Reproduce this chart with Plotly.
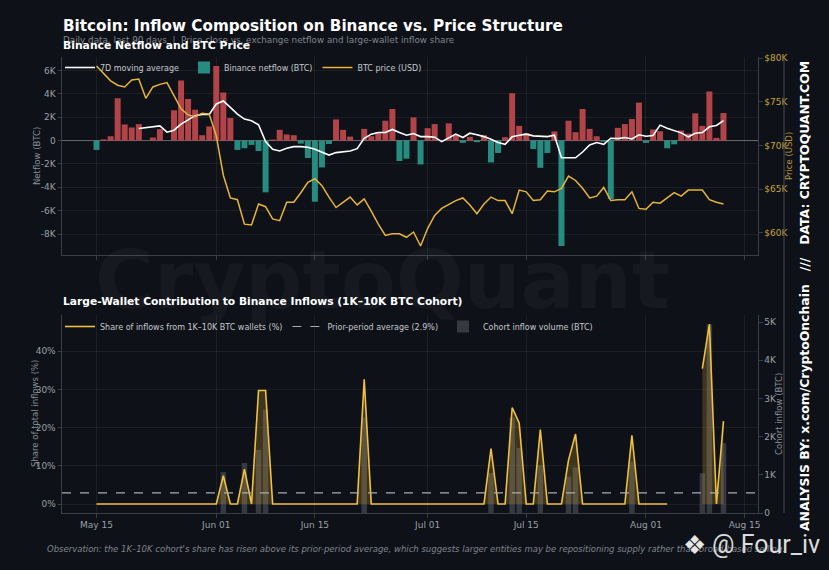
import pandas as pd
import plotly.graph_objects as go

# ---- data ----
dates = pd.date_range("2024-05-15", periods=90, freq="D")

# Binance daily netflow (BTC)
netflow_btc = [
    -800, 100, 370, 3620, 1380, 1120, 1410, 0, 260, 980,
    0, 2590, 5140, 3560, 2640, 460, 1210, 6380, 4110, 1930,
    -800, -660, -370, -890, -4430, 90, 920, 520, 460, -260,
    -1490, -5230, -2300, -290, 1810, 920, 340, 0, 1000, 370,
    720, 1700, 2700, -1750, -1550, 1980, -2040, 1060, 1410, 0,
    1470, 490, -200, 320, -140, 460, -1870, -1060, 290, 4050,
    1260, 630, -720, -2330, -1060, 780, -9020, 1700, 720, 2700,
    1000, 370, -100, -5000, 1090, 1410, 1840, 3250, -200, 950,
    800, -660, -320, 860, 600, 2330, 1260, 4200, 230, 2360,
]

# 7D moving average of netflow (BTC), first 6 days undefined
ma7_btc = [None] * 6 + [
    1030, 1090, 1180, 1260,
    720, 890, 1410, 1780, 2130, 2240, 2240, 3130, 3390, 2840,
    2270, 1840, 1700, 1350, -90, -750, -890, -660, -520, -520,
    -570, -750, -1030, -1240, -1030, -950, -890, -690, 200, 550,
    690, 690, 950, 690, 460, 600, 340, 340, 290, -90,
    260, 550, 260, 630, 490, 340, 110, -170, -320, 320,
    460, 550, 400, 340, 340, 460, -1470, -1470, -1470, -980,
    -370, -170, -320, 200, 170, 260, 140, 490, 370, 430,
    1320, 1060, 830, 660, 320, 630, 690, 1180, 1290, 1700,
]

# BTC close price (USD)
price_usd = [
    79100, 78300, 77400, 76900, 76700, 77500, 77600, 75400, 76700, 77000,
    77200, 75700, 74200, 73500, 73300, 73700, 73600, 71100, 66600, 64000,
    63800, 61000, 60900, 63300, 63000, 61600, 61400, 63500, 63500, 64600,
    65800, 66200, 65400, 64100, 62900, 63500, 64100, 63200, 63900, 62500,
    61000, 59700, 59900, 59900, 59500, 60100, 58500, 60500, 62000, 62800,
    63300, 63700, 64000, 63200, 62200, 63300, 64100, 63700, 63700, 62200,
    64900, 64700, 63700, 63800, 64800, 64700, 65100, 66500, 66000, 65100,
    64000, 64200, 65200, 63700, 63800, 63800, 64700, 62800, 62700, 63500,
    63400, 64000, 64600, 64200, 64900, 64900, 64900, 63800, 63500, 63300,
]

# share of Binance inflows from 1K-10K BTC wallets (%), None = no data
share_pct = [
    0, 0, 0, 0, 0, 0, 0, 0, 0, 0,
    0, 0, 0, 0, 0, 0, 0, 0, 7.4, 0,
    0, 9.1, 0, 29.7, 29.7, 0, 0, 0, 0, 0,
    0, 0, 0, 0, 0, 0, 0, 0, 32.6, 0,
    0, 0, 0, 0, 0, 0, 0, 0, 0, 0,
    0, 0, 0, 0, 0, 0, 14.5, 0, 0, 25.2,
    21.2, 0, 0, 19.5, 0, 0, 0, 11.5, 18.3, 0,
    0, 0, 0, 0, 0, 0, 18.0, 0, 0, 0,
    0, 0, None, None, None, None, 35.4, 47.1, 0, 21.7,
]

# cohort inflow volume (BTC)
cohort_btc = [
    0, 0, 0, 0, 0, 0, 0, 0, 0, 0,
    0, 0, 0, 0, 0, 0, 0, 0, 1070, 0,
    0, 1310, 0, 1650, 2710, 0, 0, 0, 0, 0,
    0, 0, 0, 0, 0, 0, 0, 0, 2500, 0,
    0, 0, 0, 0, 0, 0, 0, 0, 0, 0,
    0, 0, 0, 0, 0, 0, 1050, 0, 0, 2500,
    1700, 0, 0, 1250, 0, 0, 0, 950, 1200, 0,
    0, 0, 0, 0, 0, 0, 1350, 0, 0, 0,
    0, 0, 0, 0, 0, 0, 1040, 4940, 0, 1830,
]

prior_avg_pct = 2.9

netflow_ticks = [-8000, -6000, -4000, -2000, 0, 2000, 4000, 6000]
netflow_labels = ["-8K", "-6K", "-4K", "-2K", "0", "2K", "4K", "6K"]
price_ticks = [60000, 65000, 70000, 75000, 80000]
price_labels = ["$60K", "$65K", "$70K", "$75K", "$80K"]
share_ticks = [0, 10, 20, 30, 40]
share_labels = ["0%", "10%", "20%", "30%", "40%"]
cohort_ticks = [0, 1000, 2000, 3000, 4000, 5000]
cohort_labels = ["0", "1K", "2K", "3K", "4K", "5K"]
date_ticks = ["2024-05-15", "2024-06-01", "2024-06-15", "2024-07-01",
              "2024-07-15", "2024-08-01", "2024-08-15"]
date_labels = ["May 15", "Jun 01", "Jun 15", "Jul 01", "Jul 15", "Aug 01", "Aug 15"]

# ---- styling ----
W, H = 829, 570
BG = "#0e1117"
GRID = "rgba(255,255,255,0.06)"
SPINE = "#3a3f47"
TICK = "#9aa0a6"
RED = "rgba(200,75,80,0.88)"
TEAL = "rgba(42,157,143,0.88)"
GOLD = "#e8b43a"
FONT = "DejaVu Sans"


def px(x):
    return x / W


def py(y):
    return 1 - y / H


def pad_range(lo, hi, frac=0.05):
    span = hi - lo
    return [lo - frac * span, hi + frac * span]


fig = go.Figure()

# top panel: netflow bars, 7D MA, price
bar_colors = [RED if v >= 0 else TEAL for v in netflow_btc]
fig.add_trace(go.Bar(
    x=dates, y=netflow_btc, name="Binance netflow (BTC)",
    marker=dict(color=bar_colors, line=dict(width=0)),
    width=0.85 * 86400000, xaxis="x", yaxis="y",
    legend="legend", legendrank=2,
))
fig.add_trace(go.Scatter(
    x=dates, y=ma7_btc, name="7D moving average", mode="lines",
    line=dict(color="#ffffff", width=1.6), xaxis="x", yaxis="y",
    legend="legend", legendrank=1,
))
fig.add_trace(go.Scatter(
    x=dates, y=price_usd, name="BTC price (USD)", mode="lines",
    line=dict(color=GOLD, width=1.5), xaxis="x", yaxis="y2",
    legend="legend", legendrank=3,
))

# bottom panel: cohort bars (right axis, base) + share line (left axis, overlay)
fig.add_trace(go.Bar(
    x=dates, y=cohort_btc, name="Cohort inflow volume (BTC)",
    marker=dict(color="rgba(110,115,125,0.42)", line=dict(width=0)),
    width=0.78 * 86400000, xaxis="x2", yaxis="y3",
    legend="legend2", legendrank=3,
))

# shaded area under the share line, one piece per run of valid days
runs, start = [], None
for i, v in enumerate(share_pct + [None]):
    if v is not None and start is None:
        start = i
    elif v is None and start is not None:
        runs.append((start, i))
        start = None
for a, b in runs:
    fig.add_trace(go.Scatter(
        x=dates[a:b], y=share_pct[a:b], mode="lines", line=dict(width=0),
        fill="tozeroy", fillcolor="rgba(232,180,58,0.22)",
        showlegend=False, hoverinfo="skip", xaxis="x2", yaxis="y4",
    ))
fig.add_trace(go.Scatter(
    x=dates, y=share_pct, name="Share of inflows from 1K\u201310K BTC wallets (%)",
    mode="lines", line=dict(color="#f0c040", width=1.6),
    connectgaps=False, xaxis="x2", yaxis="y4",
    legend="legend2", legendrank=1,
))

x_range = [dates[0] - pd.Timedelta(days=4.9), dates[0] + pd.Timedelta(days=93.9)]
netflow_range = pad_range(min(netflow_btc), max(netflow_btc))
price_range = pad_range(min(price_usd), max(price_usd))
share_vals = [v for v in share_pct if v is not None]
share_range = pad_range(min(share_vals), max(share_vals))
cohort_range = [0, max(cohort_btc) * 1.05]

top_dom = [py(255), py(57)]
bot_dom = [py(513), py(315)]
x_dom = [px(62), px(758)]

xcommon = dict(
    type="date", range=x_range, domain=x_dom, tickvals=date_ticks,
    ticks="outside", ticklen=3.5, tickcolor=SPINE, showgrid=True,
    gridcolor=GRID, showline=True, linecolor=SPINE, linewidth=1,
    zeroline=False, automargin=False, tickfont=dict(size=9, color=TICK),
)
ycommon = dict(
    ticks="outside", ticklen=3.5, tickcolor=SPINE, showline=True,
    linecolor=SPINE, linewidth=1, zeroline=False, automargin=False,
    tickfont=dict(size=9, color=TICK),
)
legend_style = dict(orientation="h", xanchor="left", yanchor="top",
                    bgcolor="rgba(0,0,0,0)", font=dict(size=8, color="#c6c9ce"),
                    itemwidth=30, traceorder="normal", tracegroupgap=0)

fig.update_layout(
    width=W, height=H,
    margin=dict(l=0, r=0, t=0, b=0),
    paper_bgcolor=BG, plot_bgcolor="rgba(0,0,0,0)",
    font=dict(family=FONT, color=TICK),
    barmode="overlay",
    xaxis=dict(xcommon, anchor="y", showticklabels=False),
    xaxis2=dict(xcommon, anchor="y3", ticktext=date_labels),
    yaxis=dict(ycommon, domain=top_dom, anchor="x", range=netflow_range,
               tickvals=netflow_ticks, ticktext=netflow_labels,
               showgrid=True, gridcolor=GRID),
    yaxis2=dict(ycommon, overlaying="y", side="right", anchor="x",
                range=price_range, tickvals=price_ticks, ticktext=price_labels,
                showgrid=False, tickfont=dict(size=9, color="#c9a441")),
    yaxis3=dict(ycommon, domain=bot_dom, anchor="x2", side="right",
                range=cohort_range, tickvals=cohort_ticks,
                ticktext=cohort_labels, showgrid=False),
    yaxis4=dict(ycommon, overlaying="y3", side="left", anchor="x2",
                range=share_range, tickvals=share_ticks,
                ticktext=share_labels, showgrid=True, gridcolor=GRID),
    legend=dict(legend_style, x=px(60), y=py(53)),
    legend2=dict(legend_style, x=px(60), y=py(312)),
)

# zero line of netflow, prior-period average, separator line
fig.add_shape(type="line", xref="x domain", x0=0, x1=1, yref="y", y0=0, y1=0,
              line=dict(color="rgba(160,160,160,0.55)", width=1), layer="below")
fig.add_shape(type="line", xref="x2 domain", x0=0, x1=1, yref="y4",
              y0=prior_avg_pct, y1=prior_avg_pct,
              line=dict(color="#a8acb2", width=1.1, dash="dash"),
              showlegend=True, name=f"Prior-period average ({prior_avg_pct}%)",
              legend="legend2", legendrank=2)
fig.add_shape(type="line", xref="paper", yref="paper", x0=px(784), x1=px(784),
              y0=py(513), y1=py(57), line=dict(color="#4a4f57", width=1))

NB = "\u00a0"
notes = [
    dict(text="<b>CryptoQuant</b>", x=px(382), y=py(280), xanchor="center",
         yanchor="middle", font=dict(size=80, color="rgba(255,255,255,0.035)")),
    dict(text="<b>Bitcoin: Inflow Composition on Binance vs. Price Structure</b>",
         x=px(61), y=py(26), xanchor="left", yanchor="middle",
         font=dict(size=15.2, color="#ffffff")),
    dict(text=f"Daily data, last 90 days{NB}{NB}|{NB}{NB}Price close vs. exchange netflow and large-wallet inflow share",
         x=px(61), y=py(40), xanchor="left", yanchor="middle",
         font=dict(size=8.8, color="#80858d")),
    dict(text="<b>Binance Netflow and BTC Price</b>", x=px(61), y=py(45),
         xanchor="left", yanchor="middle", font=dict(size=10.8, color="#ffffff")),
    dict(text="<b>Large-Wallet Contribution to Binance Inflows (1K\u201310K BTC Cohort)</b>",
         x=px(61), y=py(301), xanchor="left", yanchor="middle",
         font=dict(size=10.7, color="#ffffff")),
    dict(text="Netflow (BTC)", x=px(37), y=py(156), textangle=-90,
         xanchor="center", yanchor="middle", font=dict(size=8.5, color="#8a9097")),
    dict(text="Price (USD)", x=px(789), y=py(156), textangle=-90,
         xanchor="center", yanchor="middle", font=dict(size=8.5, color="#b8953c")),
    dict(text="Share of total inflows (%)", x=px(35), y=py(414), textangle=-90,
         xanchor="center", yanchor="middle", font=dict(size=8.5, color="#8a9097")),
    dict(text="Cohort inflow (BTC)", x=px(779), y=py(414), textangle=-90,
         xanchor="center", yanchor="middle", font=dict(size=8.5, color="#8a9097")),
    dict(text=f"<b>ANALYSIS BY: x.com/CryptoOnchain{NB}{NB}{NB}///{NB}{NB}{NB}DATA: CRYPTOQUANT.COM</b>",
         x=px(805), y=py(296), textangle=-90, xanchor="center", yanchor="middle",
         font=dict(size=12.4, color="#ffffff")),
    dict(text="<i>Observation: the 1K\u201310K cohort's share has risen above its prior-period average, which suggests larger entities may be repositioning supply rather than broad-based selling.</i>",
         x=px(45), y=py(549), xanchor="left", yanchor="middle",
         font=dict(size=8.5, color="#80858d")),
    dict(text="\u2756", x=px(694), y=py(545), xanchor="center", yanchor="middle",
         font=dict(size=26, color="#e6e6e6")),
    dict(text="@ Four_iv", x=px(822), y=py(544), xanchor="right", yanchor="middle",
         font=dict(size=25, color="#dcdcdc", family="Roboto")),
]
for a in notes:
    fig.add_annotation(xref="paper", yref="paper", showarrow=False, **a)

fig.write_html(
    "out.html",
    config={"displayModeBar": False},
    post_script="document.body.style.margin='0';document.body.style.overflow='hidden';",
)
